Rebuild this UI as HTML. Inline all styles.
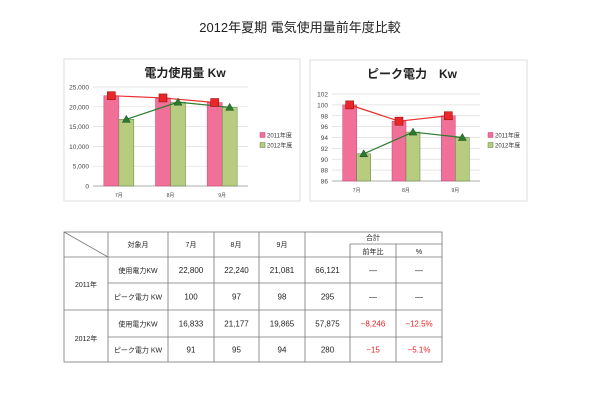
<!DOCTYPE html>
<html><head><meta charset="utf-8">
<style>
body{margin:0;background:#fff;font-family:"Liberation Sans","Noto Sans CJK JP",sans-serif;}
#root{position:relative;width:600px;height:400px;overflow:hidden;background:#fff;}
svg text{font-family:"Liberation Sans","Noto Sans CJK JP",sans-serif;}
</style></head>
<body>
<div id="root">
<svg id="svg" width="600" height="400" xmlns="http://www.w3.org/2000/svg">
<text x="300" y="32" text-anchor="middle" font-size="13" fill="#222">2012年夏期 電気使用量前年度比較</text>
<rect x="64" y="59" width="236" height="142" fill="#fff" stroke="#ddd"/>
<rect x="310" y="60" width="217" height="141" fill="#fff" stroke="#ddd"/>
<g id="c1"></g>
<g id="c2"></g>
<g id="tbl"></g>
</svg>
</div>
<script>
const categories=["7月","8月","9月"];
const usage2011=[22800,22240,21081];
const usage2012=[16833,21177,19865];
const usageTicks=[0,5000,10000,15000,20000,25000];
const peak2011=[100,97,98];
const peak2012=[91,95,94];
const peakTicks=[86,88,90,92,94,96,98,100,102];
const NS="http://www.w3.org/2000/svg";
function mk(parent,tag,attrs,text){const e=document.createElementNS(NS,tag);for(const k in attrs)e.setAttribute(k,attrs[k]);if(text!==undefined)e.textContent=text;parent.appendChild(e);return e;}

function chart(g,cfg){
  const {x0,x1,y0,y1,min,max,ticks,s1,s2,title,tx,ty,lx,fmt,bw}=cfg;
  const ys=v=>y1-(v-min)/(max-min)*(y1-y0);
  const band=(x1-x0)/categories.length;
  const xc=i=>x0+band*(i+0.5);
  let t=mk(g,'text',{x:tx,y:ty,'text-anchor':'middle','font-size':'12','font-weight':'bold',fill:'#222'},title);
  
  
  ticks.forEach(v=>{
    const l=mk(g,'line',{x1:x0,x2:x1,y1:ys(v),y2:ys(v),stroke:'#ddd','stroke-width':'0.7'});
    
    
    const tl=mk(g,'text',{x:x0-4,y:ys(v)+2.5,'text-anchor':'end','font-size':'6.5',fill:'#444'},fmt(v));
    
    
  });
  const ax=mk(g,'line',{x1:x0,x2:x1,y1:y1,y2:y1,stroke:'#999','stroke-width':'0.8'});
  
  
  categories.forEach((c,i)=>{
    const b1=mk(g,'rect',{x:xc(i)-bw,y:ys(s1[i]),width:bw,height:y1-ys(s1[i]),fill:'#f0709a',stroke:'#d04070','stroke-width':'0.5'});
    
    
    const b2=mk(g,'rect',{x:xc(i),y:ys(s2[i]),width:bw,height:y1-ys(s2[i]),fill:'#b8cc80',stroke:'#5a8040','stroke-width':'0.5'});
    
    
    const cl=mk(g,'text',{x:xc(i),y:y1+11,'text-anchor':'middle','font-size':'5',fill:'#444'},c);
    
    
  });
  const p1=s1.map((v,i)=>(xc(i)-bw/2)+','+ys(v)).join(' ');
  const p2=s2.map((v,i)=>(xc(i)+bw/2)+','+ys(v)).join(' ');
  const l1=mk(g,'polyline',{points:p1,fill:'none',stroke:'#e83030','stroke-width':'1.2'});
  
  
  const l2=mk(g,'polyline',{points:p2,fill:'none',stroke:'#2a7a30','stroke-width':'1.2'});
  
  
  s1.forEach((v,i)=>{
    const m=mk(g,'rect',{x:xc(i)-bw/2-4,y:ys(v)-4,width:8,height:8,fill:'#e82828',stroke:'#a01010','stroke-width':'0.6'});
    
    
  });
  s2.forEach((v,i)=>{
    const cx=xc(i)+bw/2,cy=ys(v);
    const m=mk(g,'polygon',{points:`${cx},${cy-4} ${cx-4},${cy+3} ${cx+4},${cy+3}`,fill:'#2a7a30',stroke:'#1a4a1a','stroke-width':'0.5'});
    
    
  });
  [['2011年度','#f0709a','#d04070',136],['2012年度','#b8cc80','#5a8040',146]].forEach(([lab,f,s,y])=>{
    const r=mk(g,'rect',{x:lx,y:y-3.5,width:5,height:5,fill:f,stroke:s,'stroke-width':'0.5'});
    
    
    const tt=mk(g,'text',{x:lx+7,y:y+1.5,'font-size':'6',fill:'#333'},lab);
    
    
  });
}
chart(document.getElementById('c1'),{x0:93,x1:248,y0:87,y1:186,min:0,max:25000,ticks:usageTicks,s1:usage2011,s2:usage2012,title:'電力使用量 Kw',tx:185,ty:77,lx:260,bw:15,fmt:v=>v.toLocaleString('en-US')});
chart(document.getElementById('c2'),{x0:332,x1:480,y0:94,y1:181,min:86,max:102,ticks:peakTicks,s1:peak2011,s2:peak2012,title:'ピーク電力　Kw',tx:412,ty:78,lx:488,bw:14,fmt:v=>String(v)});

// table
const tg=document.getElementById('tbl');
const cx=[64,108,168,214,259,305,350,396,442];
const ry=[232,257,283,310,337,362];
const rows=[
 ['使用電力KW','22,800','22,240','21,081','66,121','—','—'],
 ['ピーク電力 KW','100','97','98','295','—','—'],
 ['使用電力KW','16,833','21,177','19,865','57,875','−8,246','−12.5%'],
 ['ピーク電力 KW','91','95','94','280','−15','−5.1%']];
function ln(x1,y1,x2,y2,name){const l=mk(tg,'line',{x1,y1,x2,y2,stroke:'#777','stroke-width':'0.8'});}
function tx(x,y,s,col,name,fs){const t=mk(tg,'text',{x,y,'text-anchor':'middle','font-size':fs||'7.5',fill:col||'#222'},s);}
mk(tg,'rect',{x:64,y:232,width:378,height:130,fill:'none',stroke:'#777','stroke-width':'0.8'});
ln(64,232,108,257,'diagonal-header');
for(let i=1;i<cx.length-1;i++){
  if(i>=6) ln(cx[i],244,cx[i],362,'col-line'); else ln(cx[i],232,cx[i],362,'col-line');
}
ln(64,257,442,257,'row-line');ln(108,283,442,283,'row-line');ln(64,310,442,310,'row-line');ln(108,337,442,337,'row-line');
ln(350,244,442,244,'total-split-line');
tx(138,247,'対象月','#222','header-month',7);
tx(191,247,'7月','#222','header-jul',7);tx(236,247,'8月','#222','header-aug',7);tx(282,247,'9月','#222','header-sep',7);
tx(373,240,'合計','#222','header-total',7);tx(373,254,'前年比','#222','header-yoy',7);tx(419,254,'%','#222','header-pct',7);
tx(86,287,'2011年','#222','year-2011',7);tx(86,341,'2012年','#222','year-2012',7);
rows.forEach((r,ri)=>{
  const y=(ry[ri+1]+ry[ri+2])/2+3;
  r.forEach((s,ci)=>{
    const col=(ri>=2&&ci>=5)?'#e02020':'#222';
    tx((cx[ci+1]+cx[ci+2])/2,y,s,col,'table-cell',ci===0?'7':'8');
  });
});
</script>
</body></html>
